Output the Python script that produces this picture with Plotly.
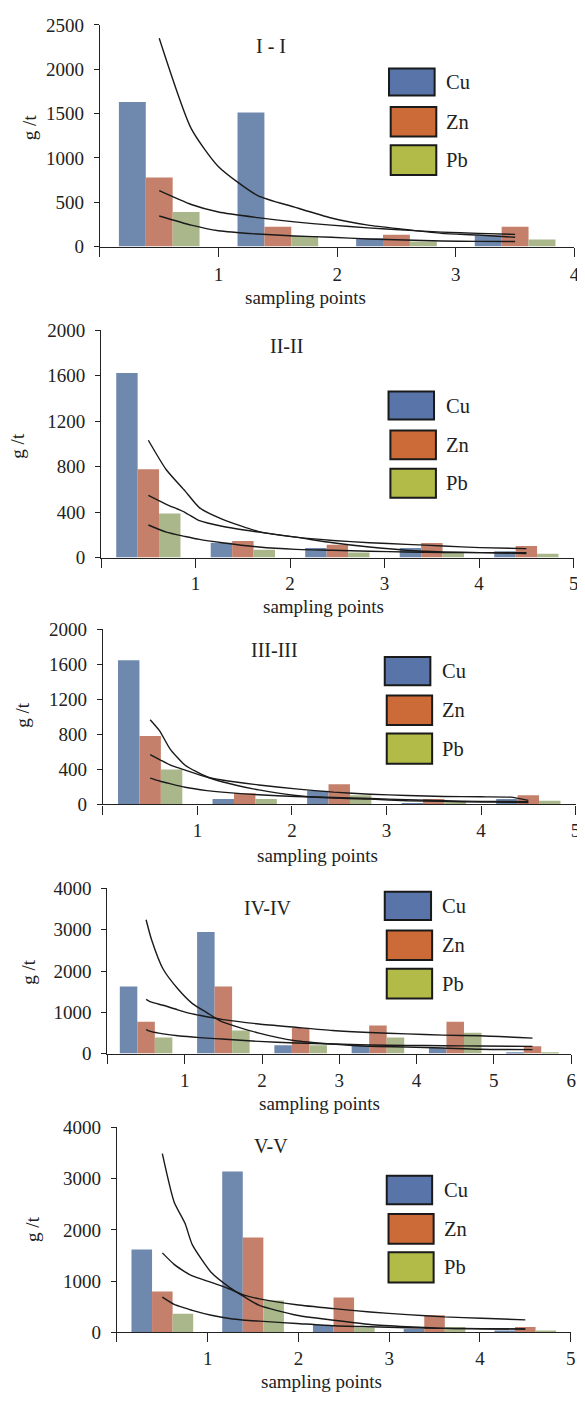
import plotly.graph_objects as go

# ---------------- data ----------------
panel_titles = ["I - I", "II-II", "III-III", "IV-IV", "V-V"]
metals = ["Cu", "Zn", "Pb"]
x_title = "sampling points"
y_title = "g /t"

# sampling point (group) centres per section
pts_1 = [0.5, 1.5, 2.5, 3.5]
pts_2 = [0.5, 1.5, 2.5, 3.5, 4.5]
pts_3 = [0.5, 1.5, 2.5, 3.5, 4.5]
pts_4 = [0.5, 1.5, 2.5, 3.5, 4.5, 5.5]
pts_5 = [0.5, 1.5, 2.5, 3.5, 4.5]

# bar values (g/t)
cu_1 = [1630, 1511, 93, 126]
zn_1 = [778, 222, 133, 222]
pb_1 = [389, 119, 56, 80]

cu_2 = [1624, 130, 84, 84, 55]
zn_2 = [777, 145, 113, 127, 101]
pb_2 = [387, 69, 43, 49, 32]

cu_3 = [1644, 60, 154, 15, 60]
zn_3 = [779, 127, 228, 60, 105]
pb_3 = [397, 60, 105, 30, 41]

cu_4 = [1625, 2948, 199, 191, 135, 32]
zn_4 = [773, 1625, 622, 677, 773, 175]
pb_4 = [390, 558, 199, 390, 502, 32]

cu_5 = [1615, 3141, 141, 64, 26]
zn_5 = [795, 1853, 679, 333, 103]
pb_5 = [365, 622, 96, 103, 26]

# trend curves
tx_1 = [0.5, 0.77, 1.0, 1.33, 1.64, 1.95, 2.26, 2.57, 2.88, 3.19, 3.5]
tcu_1 = [2350, 1330, 900, 575, 445, 322, 241, 193, 148, 130, 104]
tzn_1 = [630, 474, 389, 326, 278, 241, 211, 185, 163, 148, 137]
tpb_1 = [344, 241, 178, 141, 119, 104, 85, 74, 63, 58, 56]

tx_2 = [0.5, 0.69, 0.89, 1.04, 1.28, 1.67, 2.06, 2.45, 2.84, 3.23, 3.62, 4.01, 4.5]
tcu_2 = [1032, 772, 584, 439, 338, 228, 179, 150, 130, 116, 101, 87, 78]
tzn_2 = [546, 468, 396, 324, 275, 223, 179, 130, 92, 64, 49, 43, 35]
tpb_2 = [286, 223, 185, 159, 130, 92, 72, 64, 55, 49, 43, 43, 43]

tx_3 = [0.5, 0.6, 0.71, 0.87, 1.1, 1.26, 1.65, 2.04, 2.44, 2.83, 3.22, 3.61, 4.0, 4.31, 4.5]
tcu_3 = [966, 839, 633, 446, 315, 258, 165, 101, 71, 60, 41, 34, 26, 24, 22]
tzn_3 = [566, 510, 450, 390, 310, 277, 221, 176, 139, 116, 101, 90, 86, 82, 45]
tpb_3 = [300, 266, 236, 195, 157, 139, 109, 90, 79, 67, 52, 41, 34, 32, 30]

tx_4 = [0.5, 0.57, 0.72, 0.91, 1.1, 1.29, 1.48, 1.96, 2.43, 2.91, 3.39, 3.87, 4.34, 4.82, 5.5]
tcu_4 = [3243, 2765, 2048, 1570, 1211, 988, 773, 494, 311, 231, 175, 159, 135, 104, 96]
tzn_4 = [1315, 1245, 1170, 1060, 960, 892, 829, 717, 637, 558, 510, 478, 446, 430, 375]
tpb_4 = [582, 530, 478, 430, 400, 375, 351, 295, 255, 231, 207, 199, 191, 183, 175]

tx_5 = [0.5, 0.63, 0.75, 0.83, 1.04, 1.24, 1.41, 1.57, 1.98, 2.39, 2.79, 3.2, 3.61, 4.02, 4.5]
tcu_5 = [3487, 2545, 2128, 1712, 1167, 878, 686, 526, 333, 237, 154, 109, 77, 71, 64]
tzn_5 = [1551, 1327, 1180, 1100, 975, 846, 720, 654, 538, 462, 397, 346, 301, 276, 244]
tpb_5 = [686, 545, 474, 429, 333, 269, 237, 218, 173, 128, 109, 90, 77, 71, 64]

# axis scales
x_max = [4, 5, 5, 6, 5]
y_max = [2500, 2000, 2000, 4000, 4000]
y_step = [500, 400, 400, 1000, 1000]

# ---------------- styling ----------------
W, H = 585, 1403
OFF = 8  # the page body margin places the figure 8px right / 8px down
FONT = "Liberation Serif, Times New Roman, serif"
TXT = "#222222"
bar_colors = ["#6F88AE", "#C4806A", "#A9B78A"]
legend_colors = ["#5874A8", "#CC6B37", "#B3BB48"]

# panel geometry in window pixels: (x_left, x_right, y_top, y_bottom)
geom = [
    (100.7, 579.3, 15.0, 240.0),
    (101.9, 578.5, 325.0, 555.7),
    (103.7, 580.5, 628.3, 806.3),
    (108.3, 576.0, 891.7, 1059.3),
    (117.9, 575.5, 1134.3, 1342.3),
]
x_standoff = [2, 0, 0, 0, 0]
title_pos = [(273.4, 36.7), (289.2, 341.0), (277.0, 650.0), (270.5, 912.0), (273.0, 1153.0)]
xtitle_pos = [(308, 292), (326, 605), (320, 858), (322, 1110), (324, 1392)]
ytitle_pos = [(30, 119), (17.5, 441.7), (22.4, 715), (28.4, 976), (32.5, 1237)]
leg_boxes = [
    [(392.3, 438.3, 59.3, 86.7), (394.0, 440.0, 98.3, 128.3), (394.0, 440.0, 137.3, 167.3)],
    [(391.8, 437.7, 387.3, 415.7), (393.7, 439.6, 426.7, 456.0), (393.7, 439.6, 465.7, 495.0)],
    [(388.0, 434.0, 656.7, 685.3), (390.0, 435.8, 695.7, 725.7), (390.0, 435.8, 734.3, 765.0)],
    [(388.0, 434.7, 895.0, 923.7), (390.0, 435.8, 934.3, 964.3), (390.0, 435.8, 973.3, 1003.3)],
    [(390.0, 435.8, 1183.3, 1212.3), (391.8, 437.3, 1222.3, 1252.3), (391.8, 437.3, 1261.0, 1291.7)],
]
leg_text_x = [448, 448, 444, 444, 446]


def px(x):
    return (x - OFF) / W


def py(y):
    return 1 - (y - OFF) / H


pts = [pts_1, pts_2, pts_3, pts_4, pts_5]
bars = [(cu_1, zn_1, pb_1), (cu_2, zn_2, pb_2), (cu_3, zn_3, pb_3),
        (cu_4, zn_4, pb_4), (cu_5, zn_5, pb_5)]
trend_x = [tx_1, tx_2, tx_3, tx_4, tx_5]
trends = [(tcu_1, tzn_1, tpb_1), (tcu_2, tzn_2, tpb_2), (tcu_3, tzn_3, tpb_3),
          (tcu_4, tzn_4, tpb_4), (tcu_5, tzn_5, tpb_5)]

fig = go.Figure()
layout = dict(
    width=W, height=H, autosize=False,
    margin=dict(l=0, r=0, t=0, b=0),
    paper_bgcolor="white", plot_bgcolor="white",
    barmode="group", bargap=0.32, bargroupgap=0,
    showlegend=False,
    font=dict(family=FONT, color=TXT, size=19),
)
annotations = []
shapes = []

for i in range(5):
    k = "" if i == 0 else str(i + 1)
    xa, ya = "x" + k, "y" + k
    for m in range(3):
        fig.add_trace(go.Bar(
            x=pts[i], y=bars[i][m], name=metals[m],
            marker=dict(color=bar_colors[m], line=dict(width=0)),
            xaxis=xa, yaxis=ya, showlegend=False, hoverinfo="x+y+name",
        ))
    for m in range(3):
        fig.add_trace(go.Scatter(
            x=trend_x[i], y=trends[i][m], mode="lines",
            line=dict(color="#1a1a1a", width=1.4, shape="spline", smoothing=0.6),
            xaxis=xa, yaxis=ya, showlegend=False, hoverinfo="skip",
        ))

    x0, x1, y0, y1 = geom[i]
    nx = x_max[i]
    layout["xaxis" + k] = dict(
        domain=[px(x0), min(1.0, px(x1))], anchor=ya, range=[0, nx],
        showline=True, linecolor=TXT, linewidth=1.3, mirror=False,
        ticks="outside", ticklen=9, tickwidth=1.3, tickcolor=TXT,
        tickvals=list(range(0, nx + 1)),
        ticktext=[""] + [str(v) for v in range(1, nx + 1)],
        tickfont=dict(family=FONT, size=19, color=TXT),
        ticklabelstandoff=x_standoff[i],
        showgrid=False, zeroline=False, fixedrange=True,
    )
    yv = list(range(0, y_max[i] + 1, y_step[i]))
    layout["yaxis" + k] = dict(
        domain=[py(y1), py(y0)], anchor=xa, range=[0, y_max[i]],
        showline=True, linecolor=TXT, linewidth=1.3,
        ticks="outside", ticklen=5, tickwidth=1.3, tickcolor=TXT,
        tickvals=yv, ticktext=[str(v) for v in yv],
        tickfont=dict(family=FONT, size=19, color=TXT),
        ticklabelstandoff=6,
        showgrid=False, zeroline=False, fixedrange=True,
    )

    tx, ty = title_pos[i]
    annotations.append(dict(text=panel_titles[i], x=px(tx), y=py(ty), xref="paper", yref="paper",
                            showarrow=False, xanchor="center", yanchor="middle",
                            font=dict(family=FONT, size=20, color=TXT)))
    ax_, ay_ = xtitle_pos[i]
    annotations.append(dict(text=x_title, x=px(ax_), y=py(ay_), xref="paper", yref="paper",
                            showarrow=False, xanchor="center", yanchor="middle",
                            font=dict(family=FONT, size=19, color=TXT)))
    gx, gy = ytitle_pos[i]
    annotations.append(dict(text=y_title, x=px(gx), y=py(gy), xref="paper", yref="paper",
                            showarrow=False, xanchor="center", yanchor="middle", textangle=-90,
                            font=dict(family=FONT, size=19, color=TXT)))
    for m in range(3):
        bx0, bx1, by0, by1 = leg_boxes[i][m]
        shapes.append(dict(type="rect", xref="paper", yref="paper",
                           x0=px(bx0), x1=px(bx1), y0=py(by1), y1=py(by0),
                           fillcolor=legend_colors[m], line=dict(color="#1a1a1a", width=2)))
        annotations.append(dict(text=metals[m], x=px(leg_text_x[i]), y=py((by0 + by1) / 2),
                                xref="paper", yref="paper", showarrow=False,
                                xanchor="left", yanchor="middle",
                                font=dict(family=FONT, size=20.5, color=TXT)))

layout["annotations"] = annotations
layout["shapes"] = shapes
fig.update_layout(**layout)
fig.write_html("out.html", config={"displayModeBar": False})
